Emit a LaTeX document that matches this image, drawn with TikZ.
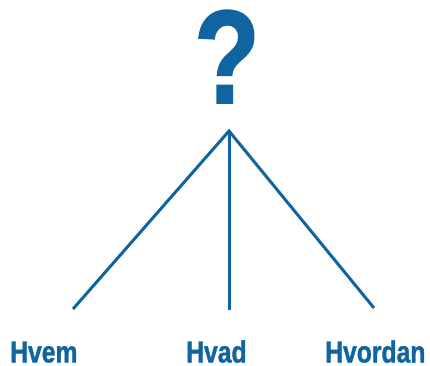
\documentclass[tikz,border=0pt]{standalone}
\usepackage{fontspec}
\newfontfamily\cond[FakeStretch=0.81,BoldFeatures={FakeBold=1.2}]{Liberation Sans}
\definecolor{dblue}{RGB}{16,100,160}
\begin{document}
\begin{tikzpicture}[x=1pt,y=-1pt,
  lbl/.style={anchor=base west,inner sep=0pt,text=dblue,font=\cond\bfseries\fontsize{30.5}{30}\selectfont},
  conn/.style={draw=dblue,line width=3pt}]
\path[use as bounding box] (0,0) rectangle (430,365);
\node[anchor=base,inner sep=0pt,text=dblue,font=\cond\bfseries\fontsize{133}{133}\selectfont] (q) at (227,103) {?};
\coordinate (apex) at (229,131);
\coordinate (l) at (73,309);
\coordinate (m) at (229,310);
\coordinate (r) at (374,308);
\draw[conn] (l) -- (apex) -- (r);
\draw[conn] (apex) -- (m);
\node[lbl] (hvem) at (10,362.5) {Hvem};
\node[lbl] (hvad) at (186,362.5) {Hvad};
\node[lbl] (hvordan) at (325,362.5) {Hvordan};
\end{tikzpicture}
\end{document}
